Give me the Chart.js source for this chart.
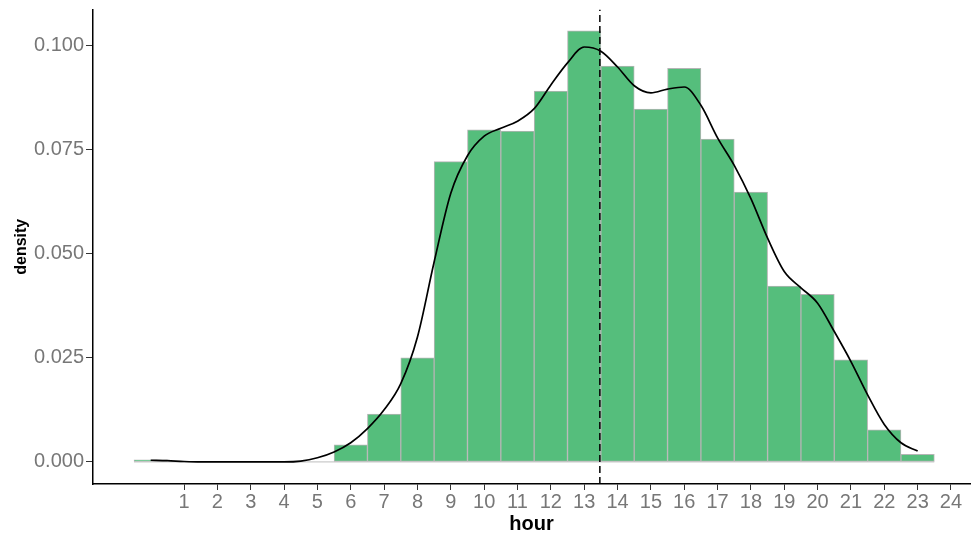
<!DOCTYPE html>
<html>
<head>
<meta charset="utf-8">
<script src="https://cdn.jsdelivr.net/npm/chart.js@4.4.1/dist/chart.umd.min.js"></script>
<style>
  html, body { margin:0; padding:0; background:#fff; }
  #wrap { width:972px; height:537px; }
</style>
</head>
<body>
<div id="wrap"><canvas id="chart" width="972" height="537"></canvas></div>
<script>
// histogram bins (hour centres) and density heights
const hours = [0,1,2,3,4,5,6,7,8,9,10,11,12,13,14,15,16,17,18,19,20,21,22,23];
const binDensity = [0.0005,0,0,0,0,0,0.0041,0.0115,0.0250,0.0721,0.0797,0.0794,0.0890,0.1035,0.0950,0.0847,0.0945,0.0775,0.0648,0.0422,0.0402,0.0245,0.0077,0.0018];

// kernel density curve
const curveX = [0,0.5,1,1.5,2,2.5,3,3.5,4,4.5,5,5.5,6,6.5,7,7.5,8,8.5,9,9.5,10,10.5,11,11.5,12,12.5,13,13.5,14,14.5,15,15.5,16,16.5,17,17.5,18,18.5,19,19.5,20,20.5,21,21.5,22,22.5,23];
const curveY = [0.0004,0.0003,0.0001,0,0,0,0,0,0,0.0002,0.0010,0.0024,0.0046,0.0080,0.0125,0.0188,0.0300,0.0480,0.0645,0.0735,0.0782,0.0801,0.0818,0.0848,0.0905,0.0958,0.0996,0.0986,0.0948,0.0903,0.0886,0.0895,0.0900,0.0856,0.0778,0.0712,0.0632,0.0537,0.0457,0.0418,0.0381,0.0313,0.0241,0.0161,0.0090,0.0046,0.0026];

const meanHour = 13.47;
const xTicks = [1,2,3,4,5,6,7,8,9,10,11,12,13,14,15,16,17,18,19,20,21,22,23,24];
const yTicks = [0, 0.025, 0.05, 0.075, 0.1];

const X_MIN = -1.73, X_MAX = 24.57;
const Y_MIN = -0.0053, Y_MAX = 0.1086;

const tickFont = { family: 'Liberation Sans, Arial, sans-serif', size: 20 };

new Chart(document.getElementById('chart').getContext('2d'), {
  type: 'bar',
  data: {
    datasets: [
      {
        type: 'line', label: 'mean',
        data: [{ x: meanHour, y: Y_MIN }, { x: meanHour, y: Y_MAX }],
        borderColor: '#000', borderWidth: 1.5, borderDash: [7, 4],
        pointRadius: 0, order: 0
      },
      {
        type: 'line', label: 'density',
        data: curveX.map((x, i) => ({ x, y: curveY[i] })),
        borderColor: '#000', borderWidth: 1.7, pointRadius: 0,
        cubicInterpolationMode: 'monotone', fill: false, order: 1
      },
      {
        type: 'bar', label: 'hist',
        data: hours.map((h, i) => ({ x: h, y: binDensity[i] })),
        backgroundColor: '#55be7c', borderColor: '#b5b5b5', borderWidth: 1,
        borderSkipped: false, barPercentage: 1, categoryPercentage: 1,
        grouped: false, order: 2
      },
      {
        // zero-height bins still show their outline along the baseline
        type: 'line', label: 'base',
        data: [{ x: hours[0] - 0.5, y: 0 }, { x: hours[hours.length - 1] + 0.5, y: 0 }],
        borderColor: '#bdbdbd', borderWidth: 1, pointRadius: 0, order: 3
      }
    ]
  },
  options: {
    responsive: false,
    animation: false,
    layout: { padding: { top: 9.5, right: 2, left: 0, bottom: 0 } },
    plugins: { legend: { display: false }, tooltip: { enabled: false } },
    scales: {
      x: {
        type: 'linear', min: X_MIN, max: X_MAX, offset: false,
        afterBuildTicks: s => { s.ticks = xTicks.map(v => ({ value: v })); },
        afterFit: s => { s.height = 53; s.paddingLeft = 0; s.paddingRight = 0; },
        grid: { drawOnChartArea: false, offset: false, color: '#333', tickLength: 6 },
        border: { display: true, color: '#000', width: 1.5 },
        ticks: { autoSkip: false, maxRotation: 0, color: '#777', font: tickFont, padding: 0 },
        title: { display: true, text: 'hour', color: '#000', padding: { top: 0, bottom: 1 },
                 font: { family: 'Liberation Sans, Arial, sans-serif', size: 20, weight: 'bold' } }
      },
      y: {
        type: 'linear', min: Y_MIN, max: Y_MAX,
        afterBuildTicks: s => { s.ticks = yTicks.map(v => ({ value: v })); },
        afterFit: s => { s.width = 93; s.paddingTop = 0; s.paddingBottom = 0; },
        grid: { drawOnChartArea: false, color: '#333', tickLength: 7 },
        border: { display: true, color: '#000', width: 1.5 },
        ticks: { color: '#777', font: tickFont, padding: 2, callback: v => v.toFixed(3) },
        title: { display: true, text: 'density', color: '#000', padding: { top: 12, bottom: 0 },
                 font: { family: 'Liberation Sans, Arial, sans-serif', size: 16, weight: 'bold' } }
      }
    }
  }
});
</script>
</body>
</html>
